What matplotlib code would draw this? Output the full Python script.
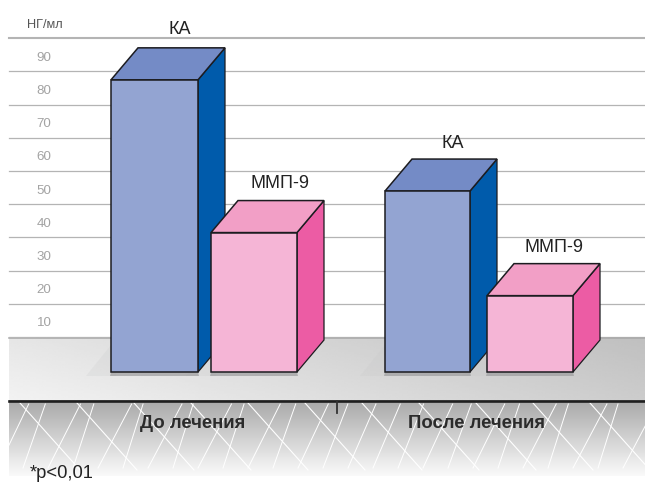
# -*- coding: utf-8 -*-
import numpy as np
import matplotlib
matplotlib.use('Agg')
import matplotlib.pyplot as plt
from matplotlib.patches import Polygon

plt.rcParams['font.family'] = ['Liberation Sans', 'DejaVu Sans']

groups = ['До лечения', 'После лечения']
bar_names = ['КА', 'ММП-9', 'КА', 'ММП-9']
bar_values = [88, 42, 54.5, 23]
grid_values = [0, 10, 20, 30, 40, 50, 60, 70, 80, 90]
tick_labels = ['10', '20', '30', '40', '50', '60', '70', '80', '90']

W, H = 645, 483
PX = 3.32   # пикселей на единицу шкалы
Y0 = 337    # задняя кромка пола


def yv(py):
    return (Y0 - py) / PX


fig = plt.figure(figsize=(W / 100, H / 100), dpi=100)
ax = fig.add_axes([0, 0, 1, 1])
ax.set_xlim(0, W)
ax.set_ylim(yv(H), yv(0))
ax.axis('off')

# сетка
for v in grid_values:
    lw = 1.5 if v == 90 else 0.9
    ax.plot([9, W], [v, v], color='#b4b4b4', lw=lw, zorder=1)
for v, s in zip(grid_values[1:], tick_labels):
    ax.text(44, v - 5.9, s, color='#a3a3a3', fontsize=9.6, ha='center', va='center', zorder=2)
ax.text(44.5, yv(25), 'НГ/мл', color='#555555', fontsize=9.2, ha='center', va='center', zorder=2)

# пол: светлый слева, серый справа (yy=1 - задняя кромка)
xx, yy = np.meshgrid(np.linspace(0, 1, 200), np.linspace(0, 1, 40))
floor = 0.95 - 0.15 * xx - 0.05 * yy
ax.imshow(floor, cmap='gray', vmin=0, vmax=1, aspect='auto', interpolation='bilinear',
          extent=(9, W, yv(400), yv(337)), origin='lower', zorder=1.5)
ax.plot([9, W], [yv(337.5), yv(337.5)], color='#a8a8a8', lw=1.1, zorder=1.6)

# нижняя полоса с градиентом
strip = np.linspace(0.98, 0.66, 80).reshape(-1, 1)
ax.imshow(strip, cmap='gray', vmin=0, vmax=1, aspect='auto', interpolation='bilinear',
          extent=(9, W, yv(476), yv(401)), origin='lower', zorder=1.5)

# белая штриховка на полосе
for x in np.arange(-10, W + 60, 25.0):
    top = x + 27 + 7 * np.sin(x * 0.37)
    ax.plot([x + 8, top + 8], [yv(468), yv(404)], color='white', lw=0.7, zorder=1.7)
for x in np.arange(-30, W, 57.0):
    ax.plot([x + 50, x + 110], [yv(403), yv(470)], color='white', lw=0.8, zorder=1.7)

# базовая линия и разделитель групп
ax.plot([9, W], [yv(401), yv(401)], color='#1f1f1f', lw=1.9, zorder=3)
ax.plot([337, 337], [yv(401), yv(413)], color='#333333', lw=1.3, zorder=3)


def bar3d(x0, x1, value, front, top, side, label, label_x, label_y):
    dx, dy = 27, 32
    base = yv(372)
    h = base + value
    d = dy / PX
    # тень от столбика
    ax.add_patch(Polygon([(x0 - 25, yv(376)), (x0, yv(345)), (x0 + 5, yv(376))],
                         closed=True, fc='#c4c5c6', ec='none', alpha=0.2, zorder=3.5))
    ax.add_patch(Polygon([(x0, yv(372)), (x1, yv(372)), (x1 + 1, yv(376)), (x0 - 1, yv(376))],
                         closed=True, fc='#9c9c9e', ec='none', alpha=0.7, zorder=3.6))
    ax.add_patch(Polygon([(x0, h), (x1, h), (x1, base), (x0, base)], closed=True,
                         fc=front, ec='#1c1c20', lw=1.1, zorder=5))
    ax.add_patch(Polygon([(x0, h), (x0 + dx, h + d), (x1 + dx, h + d), (x1, h)], closed=True,
                         fc=top, ec='#1c1c20', lw=1.1, zorder=4.5))
    ax.add_patch(Polygon([(x1, h), (x1 + dx, h + d), (x1 + dx, base + d), (x1, base)], closed=True,
                         fc=side, ec='#1c1c20', lw=0.9, zorder=4))
    ax.text(label_x, yv(label_y), label, fontsize=13, color='#222222', ha='center', va='center', zorder=6)


bar3d(111, 198, bar_values[0], '#93a4d2', '#748bc6', '#005bab', bar_names[0], 180, 30)
bar3d(385, 470, bar_values[2], '#93a4d2', '#748bc6', '#005bab', bar_names[2], 453, 144)
bar3d(211, 297, bar_values[1], '#f5b5d6', '#f29fc6', '#ec5ca4', bar_names[1], 280, 184)
bar3d(487, 573, bar_values[3], '#f5b5d6', '#f29fc6', '#ec5ca4', bar_names[3], 554, 248)

ax.text(193, yv(423), groups[0], fontsize=13.3, fontweight='bold', color='#2b2b2b', ha='center', va='center', zorder=6)
ax.text(477, yv(423), groups[1], fontsize=13.3, fontweight='bold', color='#2b2b2b', ha='center', va='center', zorder=6)
ax.text(30, yv(474), '*p<0,01', fontsize=13.2, color='#222222', ha='left', va='center', zorder=6)

fig.savefig('out.png', dpi=100)
